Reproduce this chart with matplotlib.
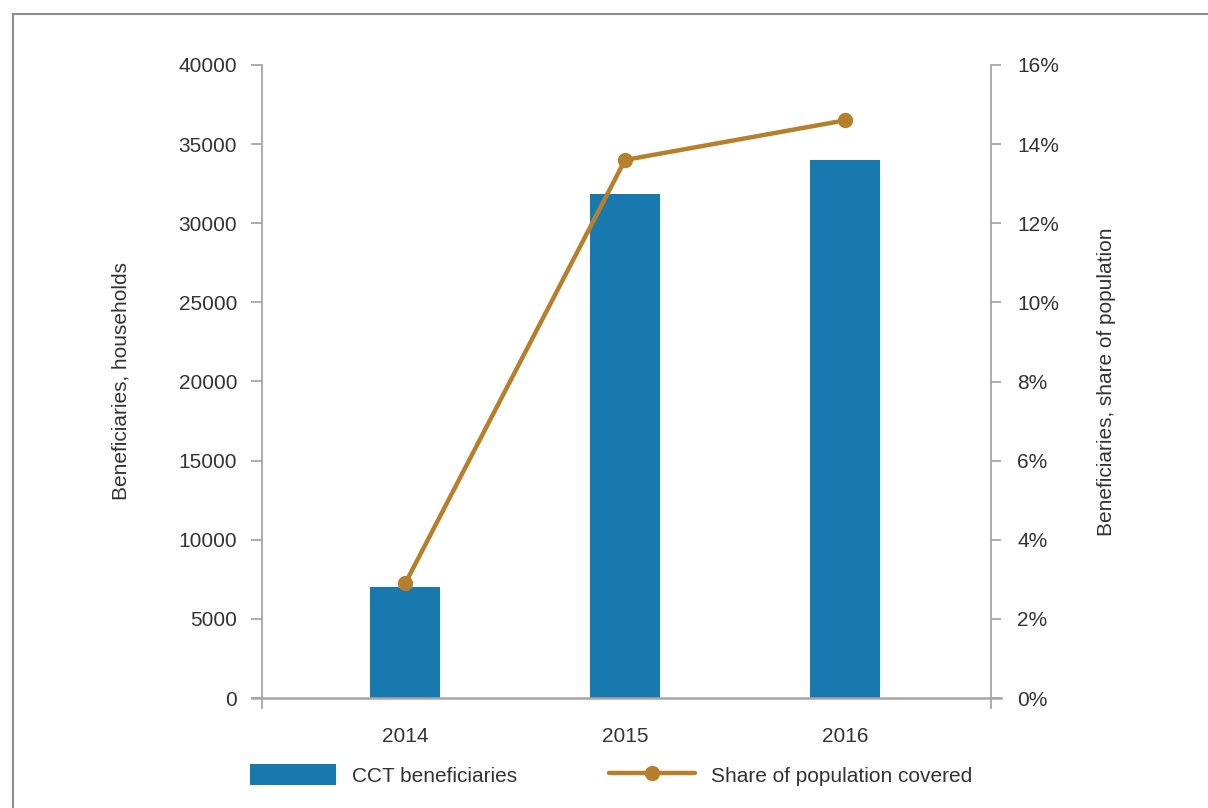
import matplotlib
matplotlib.use("Agg")
import matplotlib.pyplot as plt
from matplotlib.ticker import FuncFormatter, FixedLocator
from matplotlib.lines import Line2D

# Data
years = ["2014", "2015", "2016"]
beneficiaries = [7000, 31850, 34000]          # households
share_covered = [2.9, 13.6, 14.6]             # percent of population

left_ticks = [0, 5000, 10000, 15000, 20000, 25000, 30000, 35000, 40000]
right_ticks = [0, 2, 4, 6, 8, 10, 12, 14, 16]

BAR_COLOR = "#1879AE"
LINE_COLOR = "#B57F2C"
AXIS_COLOR = "#A6A6A6"
TEXT_COLOR = "#333333"
FS = 15

plt.rcParams["font.family"] = ["Liberation Sans", "DejaVu Sans"]
plt.rcParams["font.size"] = FS

fig = plt.figure(figsize=(12.08, 8.08), dpi=100)

# Outer frame (top and left edges)
fig.add_artist(Line2D([13 / 1208, 13 / 1208], [0, 1 - 14 / 808],
                      transform=fig.transFigure, color="#8C8C8C", lw=1.5))
fig.add_artist(Line2D([13 / 1208, 1], [1 - 14 / 808, 1 - 14 / 808],
                      transform=fig.transFigure, color="#8C8C8C", lw=1.5))

ax = fig.add_axes([262 / 1208, 1 - 698 / 808, (991 - 262) / 1208, (698 - 65) / 808])
x = list(range(len(years)))
bars = ax.bar(x, beneficiaries, width=0.318, color=BAR_COLOR,
              label="CCT beneficiaries", zorder=2)
ax.set_xlim(-0.652, 2.665)
ax.set_ylim(0, 40000)
ax.yaxis.set_major_locator(FixedLocator(left_ticks))
ax.set_xticks(x)
ax.set_xticklabels(years)

ax2 = ax.twinx()
line, = ax2.plot(x, share_covered, color=LINE_COLOR, lw=3.2, marker="o",
                 markersize=10, label="Share of population covered",
                 solid_capstyle="round", zorder=3)
ax2.set_ylim(0, 16)
ax2.yaxis.set_major_locator(FixedLocator(right_ticks))
ax2.yaxis.set_major_formatter(FuncFormatter(lambda v, p: f"{v:.0f}%"))

for a in (ax, ax2):
    for s in a.spines.values():
        s.set_visible(False)

ax.spines["left"].set_visible(True)
ax.spines["left"].set_color(AXIS_COLOR)
ax.spines["left"].set_linewidth(1.3)
ax2.spines["right"].set_visible(True)
ax2.spines["right"].set_color(AXIS_COLOR)
ax2.spines["right"].set_linewidth(1.3)

# Baseline extending past both vertical axes, with short downward ticks at each end
ax.add_line(Line2D([-0.014, 1.014], [0, 0], transform=ax.transAxes,
                   color=AXIS_COLOR, lw=1.8, clip_on=False, zorder=4))
for xa in (0, 1):
    ax.add_line(Line2D([xa, xa], [0, -10 / 633], transform=ax.transAxes,
                       color=AXIS_COLOR, lw=1.3, clip_on=False))

ax.tick_params(axis="y", direction="out", length=8, width=1.3, color=AXIS_COLOR,
               pad=10, labelcolor=TEXT_COLOR, labelsize=FS)
ax2.tick_params(axis="y", direction="out", length=7, width=1.3, color=AXIS_COLOR,
                pad=12, labelcolor=TEXT_COLOR, labelsize=FS)
ax.tick_params(axis="x", length=0, pad=21, labelcolor=TEXT_COLOR, labelsize=FS)

ax.set_ylabel("Beneficiaries, households", color=TEXT_COLOR, fontsize=FS)
ax.yaxis.set_label_coords(-0.181, 0.5)
ax2.set_ylabel("Beneficiaries, share of population", color=TEXT_COLOR, fontsize=FS)
ax2.yaxis.set_label_coords(1.145, 0.5)

fig.legend(handles=[bars, line], labels=["CCT beneficiaries", "Share of population covered"],
           loc="center left", bbox_to_anchor=(250 / 1208, 1 - 775 / 808),
           ncol=2, frameon=False, borderpad=0, borderaxespad=0,
           handlelength=4.13, handleheight=1.15, handletextpad=0.77,
           columnspacing=4.4, labelcolor=TEXT_COLOR, fontsize=FS)

fig.savefig("out.png", dpi=100)
